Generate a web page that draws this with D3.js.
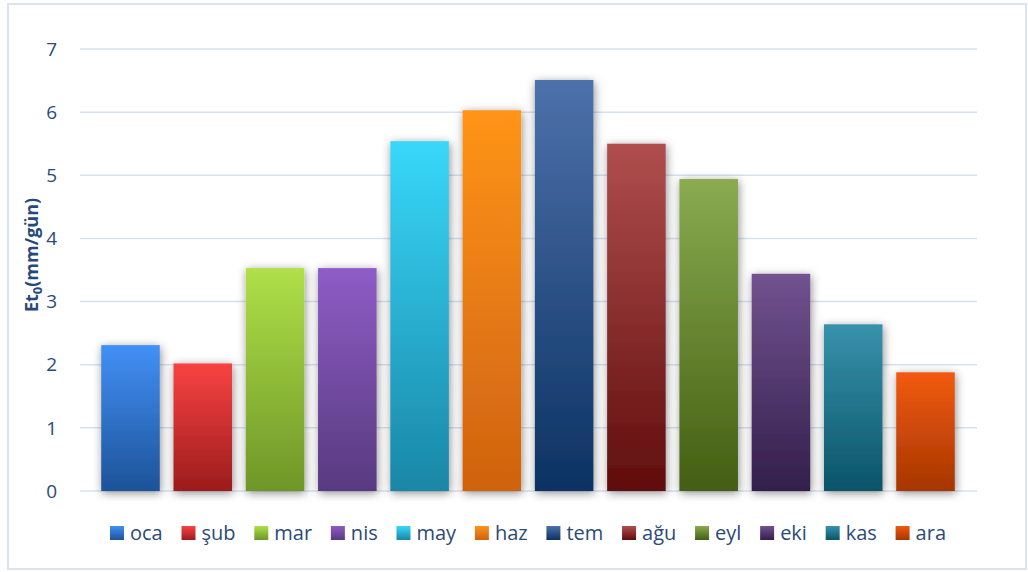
<!DOCTYPE html>
<html>
<head>
<meta charset="utf-8">
<script src="https://cdn.jsdelivr.net/npm/d3@7"></script>
<style>
  body { margin: 0; background: #fff; }
  text { font-family: "Open Sans", "Noto Sans", sans-serif; }
</style>
</head>
<body>
<div id="chart"></div>
<script>
// months and Et0 values (mm/gün)
var months = ["oca", "şub", "mar", "nis", "may", "haz", "tem", "ağu", "eyl", "eki", "kas", "ara"];
var values = [2.31, 2.02, 3.53, 3.53, 5.54, 6.03, 6.51, 5.50, 4.94, 3.44, 2.64, 1.88];
var topColors = ["#4290f6", "#f84242", "#afe048", "#8e5cc6", "#38d8fa", "#ff9418", "#4d71ab", "#b04e4e", "#8aab50", "#725290", "#3892ac", "#f25a12"];
var bottomColors = ["#1d5398", "#9c1c1c", "#6e9628", "#573a7e", "#1a86a6", "#cf6210", "#0c3262", "#600d0d", "#435e12", "#321f4b", "#0a5468", "#a63600"];
var yTicks = [0, 1, 2, 3, 4, 5, 6, 7];

var width = 1028, height = 572;
var svg = d3.select("#chart").append("svg")
    .attr("width", width)
    .attr("height", height);

var defs = svg.append("defs");

defs.append("filter")
    .attr("id", "shadow")
    .attr("x", "-50%").attr("y", "-10%")
    .attr("width", "200%").attr("height", "125%")
    .append("feDropShadow")
    .attr("dx", 1).attr("dy", 2)
    .attr("stdDeviation", 5)
    .attr("flood-color", "#000")
    .attr("flood-opacity", 0.45);

months.forEach(function (m, i) {
    var g = defs.append("linearGradient")
        .attr("id", "grad" + i)
        .attr("x1", 0).attr("y1", 0).attr("x2", 0).attr("y2", 1);
    g.append("stop").attr("offset", "0%").attr("stop-color", topColors[i]);
    g.append("stop").attr("offset", "100%").attr("stop-color", bottomColors[i]);
});

// chart frame
svg.append("rect")
    .attr("x", 8).attr("y", 4)
    .attr("width", 1018).attr("height", 565)
    .attr("fill", "none")
    .attr("stroke", "#d9e3f1")
    .attr("stroke-width", 2);

var y = d3.scaleLinear().domain([0, 7]).range([491, 49]);
var x = d3.scaleBand().domain(months).range([94, 962]).paddingInner(0.19).paddingOuter(0.1);

// gridlines
svg.append("g").selectAll("line")
    .data(yTicks)
    .enter().append("line")
    .attr("x1", 80).attr("x2", 977)
    .attr("y1", function (d) { return y(d); })
    .attr("y2", function (d) { return y(d); })
    .attr("stroke", "#d7e2f0")
    .attr("stroke-width", 1.5);

// y tick labels
svg.append("g").selectAll("text")
    .data(yTicks)
    .enter().append("text")
    .attr("x", 57)
    .attr("y", function (d) { return y(d); })
    .attr("dy", "0.35em")
    .attr("text-anchor", "end")
    .attr("font-size", 19)
    .attr("fill", "#2b4a78")
    .text(function (d) { return d; });

// y axis title
var yt = svg.append("text")
    .attr("transform", "translate(38,255) rotate(-90)")
    .attr("text-anchor", "middle")
    .attr("font-size", 18)
    .attr("font-weight", "bold")
    .attr("fill", "#27497a");
yt.append("tspan").text("Et");
yt.append("tspan").attr("font-size", 13).attr("dy", 4).text("0");
yt.append("tspan").attr("dy", -4).text("(mm/gün)");

// bars
svg.append("g").selectAll("rect")
    .data(values)
    .enter().append("rect")
    .attr("x", function (d, i) { return x(months[i]); })
    .attr("width", x.bandwidth())
    .attr("y", function (d) { return y(d); })
    .attr("height", function (d) { return y(0) - y(d); })
    .attr("fill", function (d, i) { return "url(#grad" + i + ")"; })
    .attr("filter", "url(#shadow)");

// legend, spread over 110..946
var legend = svg.append("g").attr("transform", "translate(110,533)");
var items = [], used = 0;
months.forEach(function (m, i) {
    var item = legend.append("g");
    item.append("rect")
        .attr("x", 0).attr("y", -7)
        .attr("width", 14).attr("height", 14)
        .attr("fill", "url(#grad" + i + ")");
    var t = item.append("text")
        .attr("x", 20)
        .attr("dy", "0.35em")
        .attr("font-size", 20)
        .attr("fill", "#2b4a78")
        .text(m);
    var w = 20 + t.node().getComputedTextLength();
    items.push({g: item, w: w});
    used += w;
});
var gap = (836 - used) / (months.length - 1);
var lx = 0;
items.forEach(function (it) {
    it.g.attr("transform", "translate(" + lx + ",0)");
    lx += it.w + gap;
});
</script>
</body>
</html>
